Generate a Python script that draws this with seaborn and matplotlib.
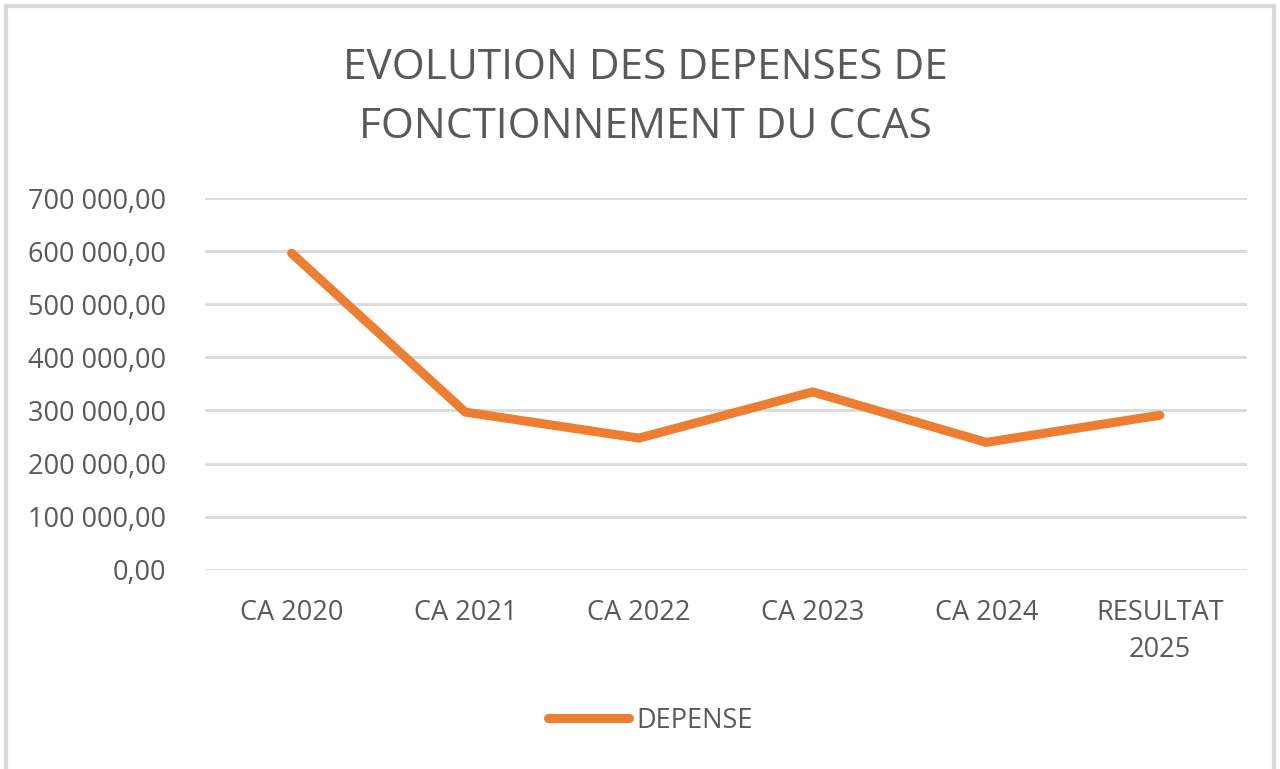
import matplotlib
matplotlib.use("Agg")
import matplotlib.pyplot as plt
import seaborn as sns
import pandas as pd
from matplotlib.patches import Rectangle
from matplotlib.ticker import FuncFormatter
from matplotlib.lines import Line2D

categories = ["CA 2020", "CA 2021", "CA 2022", "CA 2023", "CA 2024", "RESULTAT\n2025"]
depense = [596000, 297000, 248000, 335000, 240000, 291000]
yticks = [0, 100000, 200000, 300000, 400000, 500000, 600000, 700000]
title = "EVOLUTION DES DEPENSES DE\nFONCTIONNEMENT DU CCAS"
series_name = "DEPENSE"

sns.set_theme(style="white")
plt.rcParams['font.family'] = ['Open Sans', 'DejaVu Sans']

df = pd.DataFrame({"cat": categories, "val": depense, "serie": series_name})

fig = plt.figure(figsize=(12.8, 7.69), dpi=100)
ax = fig.add_axes([0.160, 0.259, 0.814, 0.4835])

gray = "#595959"
orange = "#ED7D31"

for y in yticks:
    ax.axhline(y, color="#d9d9d9", lw=2, zorder=0)

sns.lineplot(data=df, x="cat", y="val", hue="serie", palette=[orange], ax=ax,
             lw=6.5, sort=False, legend=False, solid_capstyle="round", solid_joinstyle="miter")

ax.set_xlim(-0.5, len(categories) - 0.5)
ax.set_ylim(0, 700000)
ax.set_yticks(yticks)
ax.yaxis.set_major_formatter(FuncFormatter(lambda v, p: f"{int(v):,}".replace(",", " ") + ",00"))
ax.tick_params(axis="both", colors=gray, labelsize=19.5, length=0)
ax.tick_params(axis="x", pad=21)
ax.tick_params(axis="y", pad=28)
for lab in ax.get_xticklabels():
    lab.set_horizontalalignment("center")
    lab.set_linespacing(1.45)
ax.set_xlabel("")
ax.set_ylabel("")
for s in ax.spines.values():
    s.set_visible(False)

fig.text(0.504, 0.873, title, ha="center", va="center", fontsize=30.5, color=gray, linespacing=1.52)

h = Line2D([0], [0], color=orange, lw=6.5, solid_capstyle="round")
fig.legend([h], [series_name], loc="center", bbox_to_anchor=(0.508, 0.063), frameon=False,
           fontsize=19.5, labelcolor=gray, handlelength=3.0, handletextpad=0.25)

fig.patches.append(Rectangle((0.005, -0.05), 0.99, 1.042, transform=fig.transFigure,
                             fill=False, edgecolor="#d9d9d9", lw=3))

fig.savefig("out.png", dpi=100, facecolor="white")
